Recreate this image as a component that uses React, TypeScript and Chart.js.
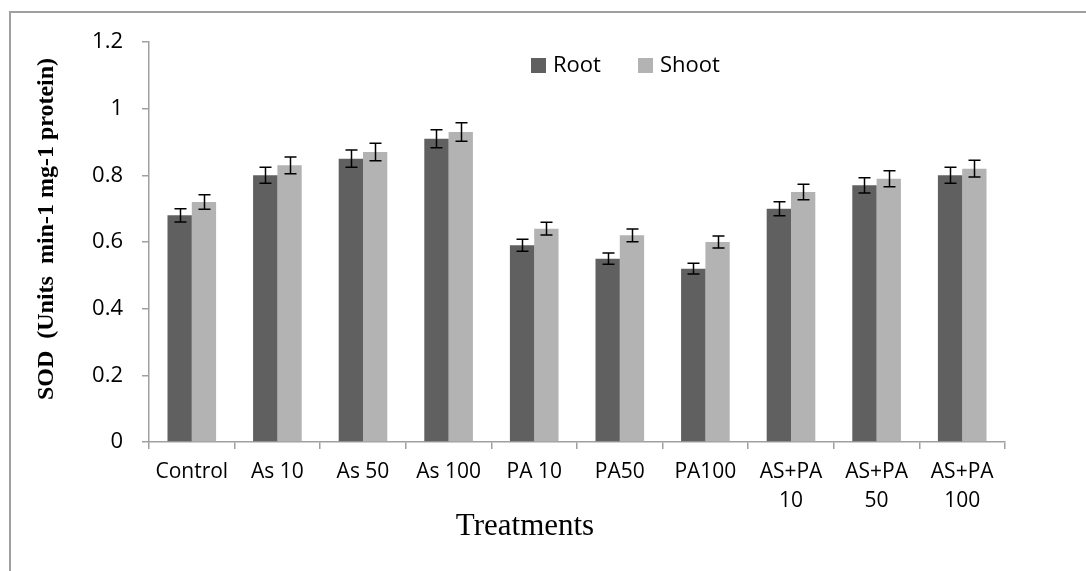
import React, { useEffect, useRef } from "react";
import { Chart, registerables } from "chart.js";

Chart.register(...registerables);

const categories: (string | string[])[] = [
  "Control",
  "As 10",
  "As 50",
  "As 100",
  "PA 10",
  "PA50",
  "PA100",
  ["AS+PA", "10"],
  ["AS+PA", "50"],
  ["AS+PA", "100"],
];
const rootValues = [0.68, 0.8, 0.85, 0.91, 0.59, 0.55, 0.52, 0.7, 0.77, 0.8];
const shootValues = [0.72, 0.83, 0.87, 0.93, 0.64, 0.62, 0.6, 0.75, 0.79, 0.82];
const rootErrors = [0.02, 0.024, 0.026, 0.027, 0.018, 0.017, 0.016, 0.021, 0.023, 0.024];
const shootErrors = [0.022, 0.025, 0.026, 0.028, 0.019, 0.019, 0.018, 0.023, 0.024, 0.025];
const yTickLabels = ["0", "0.2", "0.4", "0.6", "0.8", "1", "1.2"];
const seriesNames = ["Root", "Shoot"];
const seriesColors = ["#606060", "#b3b3b3"];
const yTitle = "SOD  (Units  min-1 mg-1 protein)";
const xTitle = "Treatments";

const SANS = "'Open Sans', sans-serif";
const SERIF = "'Liberation Serif', 'Times New Roman', serif";

const decorPlugin = {
  id: "decor",
  afterDatasetsDraw(chart: any) {
    const ctx = chart.ctx;
    const yScale = chart.scales.y;
    const errs = [rootErrors, shootErrors];
    const vals = [rootValues, shootValues];
    ctx.save();
    ctx.strokeStyle = "#000000";
    ctx.lineWidth = 1.5;
    for (let d = 0; d < 2; d++) {
      const meta = chart.getDatasetMeta(d);
      meta.data.forEach((el: any, i: number) => {
        const x = Math.round(el.x) + 0.5;
        const yt = yScale.getPixelForValue(vals[d][i] + errs[d][i]);
        const yb = yScale.getPixelForValue(vals[d][i] - errs[d][i]);
        ctx.beginPath();
        ctx.moveTo(x, yt);
        ctx.lineTo(x, yb);
        ctx.moveTo(x - 6, yt);
        ctx.lineTo(x + 6, yt);
        ctx.moveTo(x - 6, yb);
        ctx.lineTo(x + 6, yb);
        ctx.stroke();
      });
    }
    ctx.restore();
  },
  afterDraw(chart: any) {
    const ctx = chart.ctx;
    ctx.save();
    // outer frame (top and left edges)
    ctx.strokeStyle = "#a0a0a0";
    ctx.lineWidth = 2;
    ctx.beginPath();
    ctx.moveTo(10, 571);
    ctx.lineTo(10, 12);
    ctx.lineTo(1086, 12);
    ctx.stroke();

    // legend
    const legendSquares = [531, 638];
    const legendTexts = [553, 660];
    ctx.font = `22px ${SANS}`;
    ctx.textBaseline = "middle";
    ctx.textAlign = "left";
    for (let i = 0; i < 2; i++) {
      ctx.fillStyle = seriesColors[i];
      ctx.fillRect(legendSquares[i], 58, 15, 15);
      ctx.fillStyle = "#000000";
      ctx.fillText(seriesNames[i], legendTexts[i], 66);
    }

    // x title
    ctx.font = `31px ${SERIF}`;
    ctx.textAlign = "center";
    ctx.textBaseline = "alphabetic";
    ctx.fillStyle = "#000000";
    ctx.fillText(xTitle, 525, 535);

    // y title
    ctx.translate(53, 229);
    ctx.rotate(-Math.PI / 2);
    ctx.font = `bold 24px ${SERIF}`;
    ctx.textAlign = "center";
    ctx.textBaseline = "alphabetic";
    ctx.fillText(yTitle, 0, 0);
    ctx.restore();
  },
};

export default function App() {
  const canvasRef = useRef<HTMLCanvasElement | null>(null);

  useEffect(() => {
    const canvas = canvasRef.current;
    if (!canvas) return;
    const chart = new Chart(canvas, {
      type: "bar",
      data: {
        labels: categories as any,
        datasets: [
          {
            label: seriesNames[0],
            data: rootValues,
            backgroundColor: seriesColors[0],
            categoryPercentage: 0.568,
            barPercentage: 1,
          },
          {
            label: seriesNames[1],
            data: shootValues,
            backgroundColor: seriesColors[1],
            categoryPercentage: 0.568,
            barPercentage: 1,
          },
        ],
      },
      options: {
        responsive: false,
        animation: false,
        devicePixelRatio: 1,
        layout: { padding: { top: 42, right: 81, bottom: 0, left: 0 } },
        plugins: {
          legend: { display: false },
          title: { display: false },
          tooltip: { enabled: false },
        },
        scales: {
          x: {
            afterFit: (s: any) => {
              s.height = 129;
            },
            grid: {
              display: true,
              drawOnChartArea: false,
              drawTicks: true,
              tickLength: 7,
              offset: true,
              color: "#a0a0a0",
              lineWidth: 1.5,
            },
            border: { display: true, color: "#a0a0a0", width: 1.5 },
            ticks: {
              color: "#000000",
              font: { family: SANS, size: 21, lineHeight: 1.4 },
              padding: 8,
              maxRotation: 0,
              autoSkip: false,
            },
          },
          y: {
            min: 0,
            max: 1.2,
            afterFit: (s: any) => {
              s.width = 149;
            },
            grid: {
              display: true,
              drawOnChartArea: false,
              drawTicks: true,
              tickLength: 7,
              color: "#a0a0a0",
              lineWidth: 1.5,
            },
            border: { display: true, color: "#a0a0a0", width: 1.5 },
            ticks: {
              stepSize: 0.2,
              color: "#000000",
              font: { family: SANS, size: 22 },
              padding: 19,
              callback: (_v: any, i: number) => yTickLabels[i],
            },
          },
        },
      },
      plugins: [decorPlugin],
    });
    return () => chart.destroy();
  }, []);

  return (
    <div style={{ position: "fixed", left: 0, top: 0, width: 1086, height: 571, background: "#ffffff" }}>
      <canvas ref={canvasRef} width={1086} height={571} style={{ display: "block" }} />
    </div>
  );
}
